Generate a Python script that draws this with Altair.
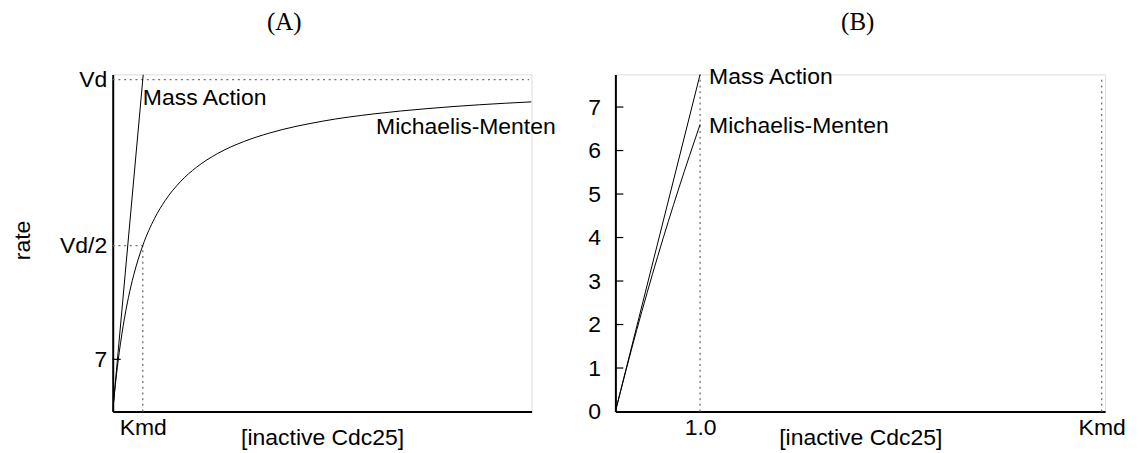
import altair as alt
import pandas as pd

# ---------------- Panel (A) data ----------------
a_mm_x = [0, 0.5, 1, 2, 3, 4, 5.74, 8, 10, 13, 16, 20, 25, 30, 40, 50, 60, 70, 80]
a_mm_y = [0, 3.57, 6.60, 11.50, 15.28, 18.28, 22.25, 25.91, 28.27, 30.87, 32.75,
          34.58, 36.19, 37.35, 38.92, 39.92, 40.61, 41.13, 41.52]
a_ma_x = [0, 5.83]
a_ma_y = [0, 45.2]
a_x_ticks = [5.74]
a_x_labels = ["Kmd"]
a_y_ticks = [7, 22.25, 44.5]
a_y_labels = ["7", "Vd/2", "Vd"]
a_inward_ticks = [7]
a_guide_x = [0, 0, 5.74]
a_guide_x2 = [79.5, 5.74, 5.74]
a_guide_y = [44.5, 22.25, 0]
a_guide_y2 = [44.5, 22.25, 22.25]
a_label_text = ["Mass Action", "Michaelis-Menten"]
a_label_x = [5.75, 50.3]
a_label_y = [42.1, 38.1]
a_x_domain = [0, 80]
a_y_domain = [0, 45.2]

# ---------------- Panel (B) data ----------------
b_mm_x = [0, 0.25, 0.5, 0.75, 1.0]
b_mm_y = [0, 1.86, 3.57, 5.14, 6.60]
b_ma_x = [0, 1.0]
b_ma_y = [0, 7.75]
b_x_ticks = [1.0, 5.74]
b_x_labels = ["1.0", "Kmd"]
b_y_ticks = [0, 1, 2, 3, 4, 5, 6, 7]
b_y_labels = ["0", "1", "2", "3", "4", "5", "6", "7"]
b_inward_ticks = [1, 2, 3, 4, 5, 6, 7]
b_guide_x = [1.0, 5.74]
b_guide_x2 = [1.0, 5.74]
b_guide_y = [0, 0]
b_guide_y2 = [7.75, 7.7]
b_label_text = ["Mass Action", "Michaelis-Menten"]
b_label_x = [1.106, 1.106]
b_label_y = [7.68, 6.56]
b_x_domain = [0, 5.78]
b_y_domain = [0, 7.75]

SANS = "Liberation Sans"
SERIF = "Liberation Serif"
FS = 23
TICK_PX = 8
HEIGHT = 338


def label_expr(vals, labels):
    expr = "''"
    for v, l in reversed(list(zip(vals, labels))):
        expr = f"abs(datum.value - {v}) < 1e-6 ? '{l}' : ({expr})"
    return expr


def panel(mm_x, mm_y, ma_x, ma_y, x_ticks, x_labels, y_ticks, y_labels,
          inward, gx, gx2, gy, gy2, lt, lx, ly, xdom, ydom, width,
          title, title_x, ylab_pad, y_title):
    xaxis = alt.Axis(values=x_ticks, labelExpr=label_expr(x_ticks, x_labels),
                     ticks=False, tickSize=0, grid=False, labelPadding=5,
                     labelFont=SANS, labelFontSize=FS, labelColor="black",
                     labelFlush=False, labelOverlap=False,
                     domainColor="black", domainWidth=2,
                     title="[inactive Cdc25]", titleFont=SANS, titleFontSize=FS,
                     titleFontWeight="normal", titleColor="black",
                     titleY=33, titleBaseline="alphabetic")
    yaxis_kwargs = dict(values=y_ticks, labelExpr=label_expr(y_ticks, y_labels),
                        ticks=False, tickSize=0, grid=False, labelPadding=ylab_pad,
                        labelFont=SANS, labelFontSize=FS, labelColor="black",
                        labelFlush=False, labelOverlap=False,
                        domainColor="black", domainWidth=2)
    if y_title:
        yaxis = alt.Axis(title=y_title, titleFont=SANS, titleFontSize=FS,
                         titleFontWeight="normal", titleColor="black",
                         titleX=-90, titleY=166, titleAngle=270,
                         titleAlign="center", titleBaseline="middle",
                         **yaxis_kwargs)
    else:
        yaxis = alt.Axis(title=None, **yaxis_kwargs)

    X = alt.X("x:Q", scale=alt.Scale(domain=xdom, nice=False, zero=False), axis=xaxis)
    Y = alt.Y("y:Q", scale=alt.Scale(domain=ydom, nice=False, zero=False), axis=yaxis)

    mm = alt.Chart(pd.DataFrame({"x": mm_x, "y": mm_y})).mark_line(
        color="black", strokeWidth=1, interpolate="monotone", clip=True
    ).encode(x=X, y=Y)
    ma = alt.Chart(pd.DataFrame({"x": ma_x, "y": ma_y})).mark_line(
        color="black", strokeWidth=1, clip=True
    ).encode(x=X, y=Y)
    guides = alt.Chart(pd.DataFrame({"x": gx, "x2": gx2, "y": gy, "y2": gy2})).mark_rule(
        color="#707070", strokeWidth=1.3, strokeDash=[2, 3.7]
    ).encode(x=X, x2="x2:Q", y=Y, y2="y2:Q")
    tick_len = TICK_PX * (xdom[1] - xdom[0]) / width
    ticks = alt.Chart(pd.DataFrame({"x": [xdom[0]] * len(inward),
                                    "x2": [xdom[0] + tick_len] * len(inward),
                                    "y": inward})).mark_rule(
        color="black", strokeWidth=1.2
    ).encode(x=X, x2="x2:Q", y=Y)
    labels = alt.Chart(pd.DataFrame({"x": lx, "y": ly, "t": lt})).mark_text(
        font=SANS, fontSize=FS, align="left", baseline="middle", color="black"
    ).encode(x=X, y=Y, text="t:N")
    ttl = alt.Chart(pd.DataFrame({"t": [title]})).mark_text(
        font=SERIF, fontSize=25, align="center", baseline="middle", color="black"
    ).encode(x=alt.value(title_x), y=alt.value(-53), text="t:N")

    return alt.layer(guides, mm, ma, ticks, labels, ttl).properties(width=width, height=HEIGHT)


chart_a = panel(a_mm_x, a_mm_y, a_ma_x, a_ma_y, a_x_ticks, a_x_labels, a_y_ticks,
                a_y_labels, a_inward_ticks, a_guide_x, a_guide_x2, a_guide_y,
                a_guide_y2, a_label_text, a_label_x, a_label_y, a_x_domain,
                a_y_domain, 420, "(A)", 172, 6, "rate")
chart_b = panel(b_mm_x, b_mm_y, b_ma_x, b_ma_y, b_x_ticks, b_x_labels, b_y_ticks,
                b_y_labels, b_inward_ticks, b_guide_x, b_guide_x2, b_guide_y,
                b_guide_y2, b_label_text, b_label_x, b_label_y, b_x_domain,
                b_y_domain, 491, "(B)", 243, 15, None)

chart = alt.hconcat(chart_a, chart_b, spacing=84, bounds="flush").properties(
    padding={"left": 3, "top": 0, "right": 5, "bottom": 5}
).configure_view(stroke=None).configure(background="white")

chart.save("out.html", embed_options={"renderer": "svg", "actions": False})
